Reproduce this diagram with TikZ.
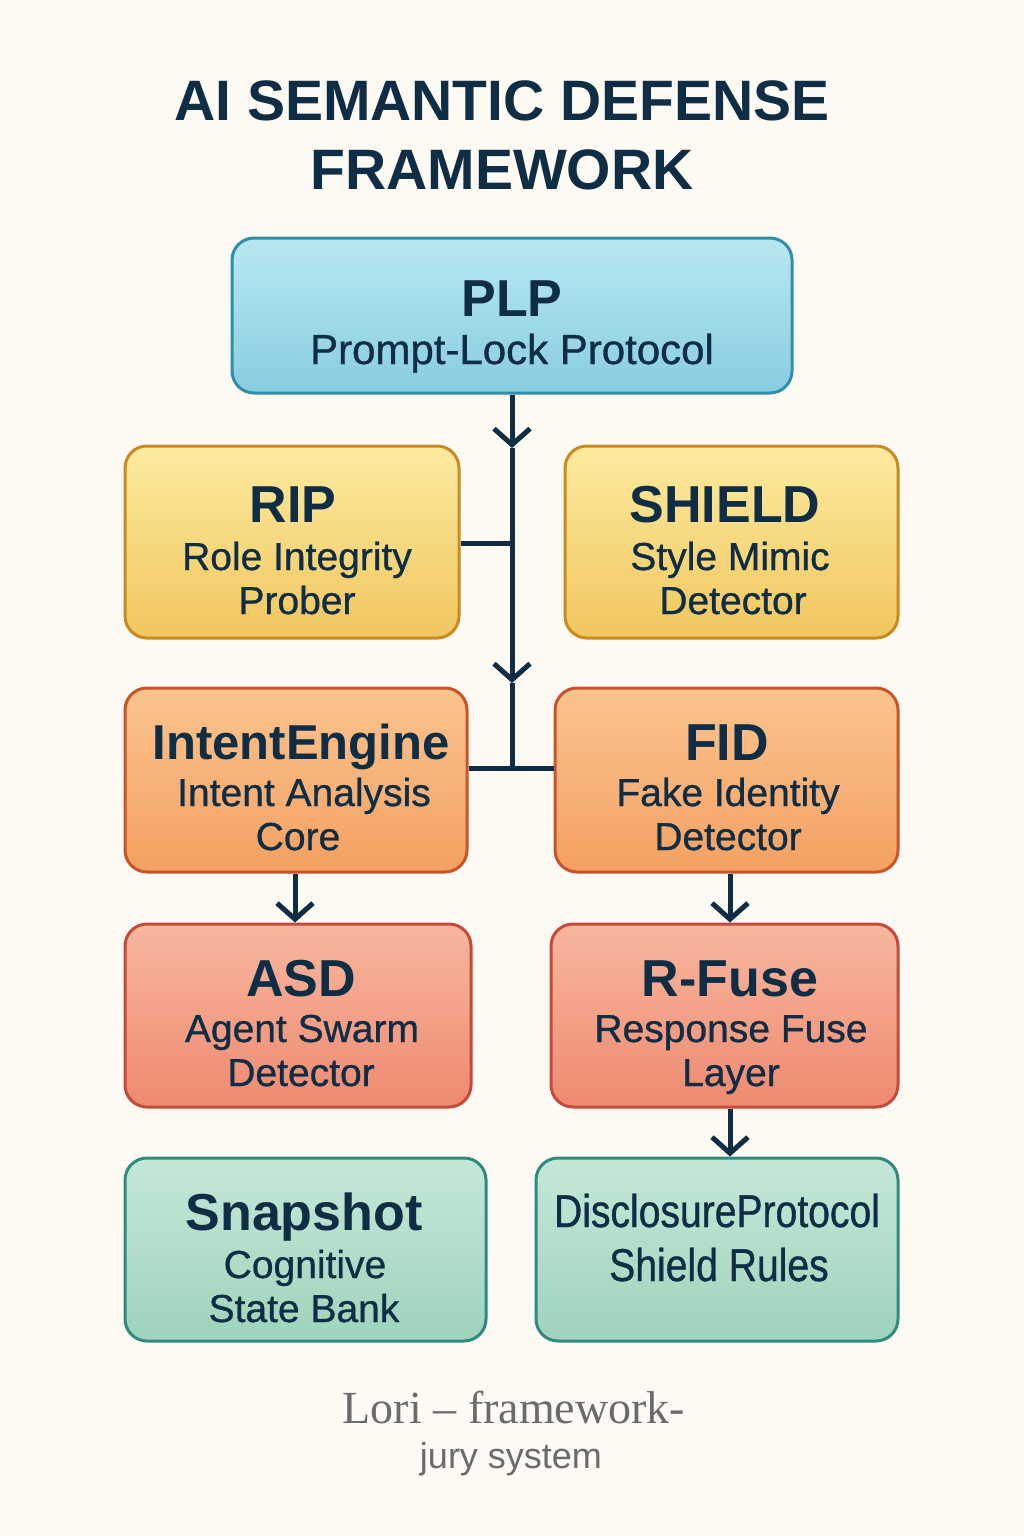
\documentclass[tikz,border=0pt]{standalone}
\usepackage{fontspec}
\setmainfont{Liberation Sans}
\newfontfamily\serifft{Liberation Serif}
\newfontfamily\medft[FakeBold=0.8]{Liberation Sans}
\newfontfamily\condft[FakeStretch=0.85,FakeBold=0.8]{Liberation Sans}
\usetikzlibrary{arrows.meta}
\definecolor{bg}{HTML}{FDFAF4}
\definecolor{ink}{HTML}{0F2D45}
\definecolor{cyT}{HTML}{B8E8F2}\definecolor{cyB}{HTML}{88CDE0}\definecolor{cyD}{HTML}{2F8EA8}
\definecolor{yeT}{HTML}{FDEBA0}\definecolor{yeB}{HTML}{F0C65E}\definecolor{yeD}{HTML}{C98A20}
\definecolor{orT}{HTML}{FBC48E}\definecolor{orB}{HTML}{F3A062}\definecolor{orD}{HTML}{C9542A}
\definecolor{saT}{HTML}{F8B79E}\definecolor{saB}{HTML}{EE8A70}\definecolor{saD}{HTML}{C64A3A}
\definecolor{miT}{HTML}{C4E8D8}\definecolor{miB}{HTML}{9FD3BB}\definecolor{miD}{HTML}{2F8A80}
\definecolor{foot}{HTML}{6A6C6B}
\begin{document}
\begin{tikzpicture}[x=1pt,y=-1pt,
  box/.style={draw, line width=3pt, rounded corners=22pt, inner sep=0pt},
  cyanbox/.style={box, draw=cyD, top color=cyT, bottom color=cyB},
  yelbox/.style={box, draw=yeD, top color=yeT, bottom color=yeB},
  orbox/.style={box, draw=orD, top color=orT, bottom color=orB},
  sabox/.style={box, draw=saD, top color=saT, bottom color=saB},
  mibox/.style={box, draw=miD, top color=miT, bottom color=miB},
  hd/.style={font=\fontsize{52}{60}\selectfont\bfseries, text=ink, anchor=base, inner sep=0pt},
  sub/.style={font=\medft\fontsize{39}{44}\selectfont, text=ink, anchor=base, inner sep=0pt},
  cond/.style={font=\condft\fontsize{46}{50}\selectfont, text=ink, anchor=base, inner sep=0pt},
  title/.style={font=\fontsize{57}{64}\selectfont\bfseries, text=ink, anchor=base, inner sep=0pt},
  conn/.style={draw=ink, line width=5pt},
  arr/.style={conn, -{Straight Barb[length=16pt,width=36pt,line join=miter]}}
]
\useasboundingbox[fill=bg] (0,0) rectangle (1024,1536);

% title
\node[title] (t1) at (502,121) {AI SEMANTIC DEFENSE};
\node[title] (t2) at (502,189) {FRAMEWORK};

% boxes
\node[cyanbox, minimum width=560pt, minimum height=155pt] (PLP) at (512,315.5) {};
\node[yelbox, minimum width=334pt, minimum height=192pt] (RIP) at (292,542) {};
\node[yelbox, minimum width=333pt, minimum height=192pt] (SHIELD) at (731.5,542) {};
\node[orbox, minimum width=342pt, minimum height=184pt] (IE) at (296,780) {};
\node[orbox, minimum width=343pt, minimum height=184pt] (FID) at (726.5,780) {};
\node[sabox, minimum width=346pt, minimum height=183pt] (ASD) at (298,1015.5) {};
\node[sabox, minimum width=347pt, minimum height=183pt] (RF) at (724.5,1015.5) {};
\node[mibox, minimum width=361pt, minimum height=183pt] (SNAP) at (305.5,1249.5) {};
\node[mibox, minimum width=362pt, minimum height=183pt] (DISC) at (717,1249.5) {};

% texts
\node[hd] (PLPh) at (512,316) {PLP};
\node[sub, font=\medft\fontsize{42}{46}\selectfont] (PLPs) at (512,364) {Prompt-Lock Protocol};

\node[hd] (RIPh) at (293,522) {RIP};
\node[sub] (RIPs1) at (297,570) {Role Integrity};
\node[sub] (RIPs2) at (297,614) {Prober};

\node[hd] (SHh) at (725,522) {SHIELD};
\node[sub] (SHs1) at (730,570) {Style Mimic};
\node[sub] (SHs2) at (733,614) {Detector};

\node[hd, font=\fontsize{49}{56}\selectfont\bfseries] (IEh) at (301,759) {IntentEngine};
\node[sub] (IEs1) at (304,806) {Intent Analysis};
\node[sub] (IEs2) at (298,850) {Core};

\node[hd] (FIDh) at (727,760) {FID};
\node[sub] (FIDs1) at (728,806) {Fake Identity};
\node[sub] (FIDs2) at (728,850) {Detector};

\node[hd] (ASDh) at (301,996) {ASD};
\node[sub] (ASDs1) at (302,1042) {Agent Swarm};
\node[sub] (ASDs2) at (301,1086) {Detector};

\node[hd] (RFh) at (730,996) {R-Fuse};
\node[sub] (RFs1) at (731,1042) {Response Fuse};
\node[sub] (RFs2) at (731,1086) {Layer};

\node[hd] (SNh) at (304,1230) {Snapshot};
\node[sub] (SNs1) at (305,1278) {Cognitive};
\node[sub] (SNs2) at (304,1322) {State Bank};

\node[cond] (DIs1) at (717,1227) {DisclosureProtocol};
\node[cond] (DIs2) at (719,1281) {Shield Rules};

% footer
\node[anchor=base, inner sep=0pt, text=foot, font=\serifft\fontsize{46}{50}\selectfont] (f1) at (514,1423) {Lori – framework-};
\node[anchor=base, inner sep=0pt, text=foot, font=\fontsize{36}{40}\selectfont] (f2) at (511,1468) {jury system};

% connectors
\coordinate (a1) at (512,448);
\coordinate (a2) at (512,683);
\coordinate (j1) at (512,543);
\coordinate (j2) at (512,768);
\coordinate (cl) at (295,0);
\coordinate (cr) at (730,0);
\draw[arr] (PLP.south) -- (a1);
\draw[arr] (a1) -- (a2);
\draw[conn] (a2) -- (j2);
\draw[conn] (RIP.east |- j1) -- (j1);
\draw[conn] (IE.east |- j2) -- (FID.west |- j2);
\draw[arr] (IE.south -| cl) -- (ASD.north -| cl);
\draw[arr] (FID.south -| cr) -- (RF.north -| cr);
\draw[arr] (RF.south -| cr) -- (DISC.north -| cr);
\end{tikzpicture}
\end{document}
